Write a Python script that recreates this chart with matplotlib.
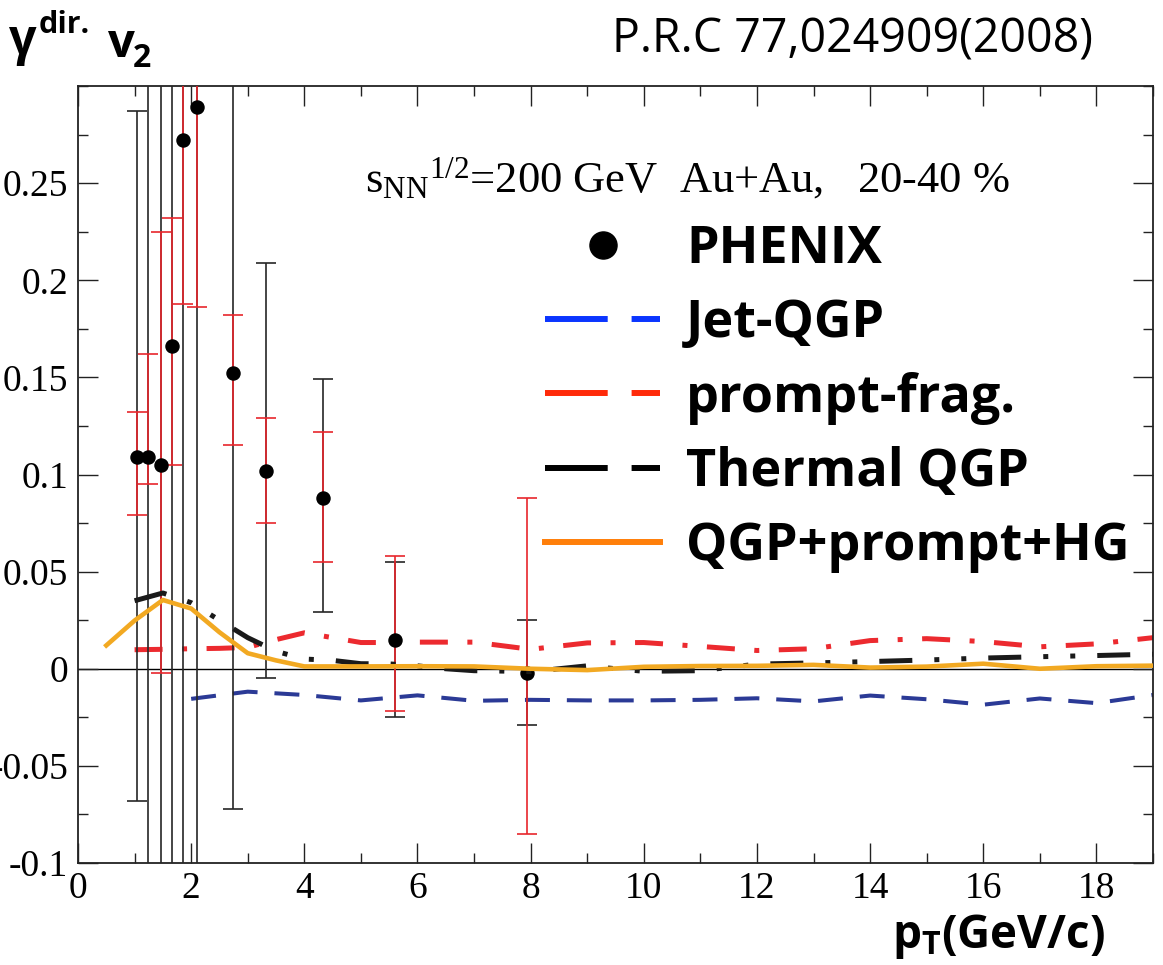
import matplotlib
matplotlib.use('Agg')
import matplotlib.pyplot as plt
from matplotlib.lines import Line2D
from matplotlib.ticker import FixedLocator, FixedFormatter, MultipleLocator
import numpy as np

plt.rcParams['axes.unicode_minus'] = False
plt.rcParams['mathtext.fontset'] = 'custom'
plt.rcParams['mathtext.rm'] = 'Liberation Serif'
plt.rcParams['mathtext.it'] = 'Liberation Serif:italic'
plt.rcParams['mathtext.bf'] = 'Open Sans:bold'

# ---------------- data ----------------
# PHENIX points
pt_data = [1.04, 1.23, 1.47, 1.67, 1.86, 2.11, 2.74, 3.33, 4.33, 5.60, 7.94]
v2_data = [0.109, 0.109, 0.105, 0.166, 0.272, 0.289, 0.152, 0.102, 0.088, 0.015, -0.002]
stat_low = [-0.068, -0.3, -0.3, -0.3, -0.3, -0.3, -0.072, -0.005, 0.029, -0.025, -0.029]
stat_high = [0.287, 0.5, 0.5, 0.5, 0.5, 0.5, 0.5, 0.209, 0.149, 0.055, 0.025]
sys_low = [0.079, 0.095, -0.002, 0.105, 0.188, 0.186, 0.115, 0.075, 0.055, -0.022, -0.085]
sys_high = [0.132, 0.162, 0.225, 0.232, 0.5, 0.5, 0.182, 0.129, 0.122, 0.058, 0.088]

# Jet-QGP
pt_jet = [2, 3, 4, 5, 6, 7, 8, 9, 10, 11, 12, 13, 14, 15, 16, 17, 18, 19]
v2_jet = [-0.0155, -0.0118, -0.0135, -0.0163, -0.0137, -0.0165, -0.0160, -0.0163, -0.0163,
          -0.0160, -0.0152, -0.0168, -0.0138, -0.0157, -0.0185, -0.0153, -0.0177, -0.0135]

# prompt-frag.
pt_prompt = [1, 1.5, 2, 2.5, 3, 3.5, 4, 4.5, 5, 5.5, 6, 7, 8, 9, 10, 11, 12, 13, 14, 15, 16, 17, 18, 19]
v2_prompt = [0.0098, 0.0100, 0.0103, 0.0105, 0.0110, 0.0150, 0.0185, 0.0160, 0.0135, 0.0135,
             0.0137, 0.0137, 0.0100, 0.0133, 0.0135, 0.0115, 0.0094, 0.0103, 0.0145, 0.0155,
             0.0140, 0.0113, 0.0128, 0.0160]

# Thermal QGP
pt_thermal = [1, 1.5, 2, 2.5, 3, 3.5, 4, 4.5, 5, 5.5, 6, 6.5, 7, 7.5, 8, 8.5, 9, 9.5, 10,
              11, 12, 13, 14, 15, 16, 17, 18, 19]
v2_thermal = [0.035, 0.039, 0.034, 0.025, 0.016, 0.009, 0.005, 0.0043, 0.0026, 0.0025, 0.0015,
              0.0, -0.0010, -0.0012, -0.0015, 0.0, 0.0015, 0.0, -0.0013, -0.0010, 0.0024, 0.0030,
              0.0037, 0.0045, 0.0055, 0.0062, 0.0068, 0.0075]

# QGP+prompt+HG
pt_total = [0.5, 1, 1.5, 2, 2.5, 3, 3.5, 4, 5, 6, 7, 8, 9, 10, 11, 12, 13, 14, 15, 16, 17, 18, 19]
v2_total = [0.012, 0.0248, 0.0354, 0.031, 0.0188, 0.008, 0.0043, 0.0012, 0.0012, 0.0013,
            0.0012, 0.0, -0.0007, 0.0010, 0.0014, 0.0015, 0.0020, 0.0006, 0.0011, 0.0026,
            0.0, 0.0013, 0.0016]

x_major = [0, 2, 4, 6, 8, 10, 12, 14, 16, 18]
x_labels = ['0', '2', '4', '6', '8', '10', '12', '14', '16', '18']
y_major = [-0.1, -0.05, 0, 0.05, 0.1, 0.15, 0.2, 0.25]
y_labels = ['-0.1', '-0.05', '0', '0.05', '0.1', '0.15', '0.2', '0.25']

legend_labels = ['PHENIX', 'Jet-QGP', 'prompt-frag.', 'Thermal QGP', 'QGP+prompt+HG']

# ---------------- figure ----------------
W, H = 1163, 965
fig = plt.figure(figsize=(W / 100, H / 100), dpi=100)
ax = fig.add_axes([78 / W, 1 - 863 / H, (1153 - 78) / W, (863 - 86) / H])
ax.set_xlim(0, 19)
ax.set_ylim(-0.1, 0.3)

ax.axhline(0, color='black', lw=1.0, zorder=1)

ax.plot(pt_jet, v2_jet, color='#2b3a96', lw=2.9, ls=(0, (6.2, 4.2)), zorder=2)
ax.plot(pt_prompt, v2_prompt, color='#ec2a2f', lw=3.6, ls=(0, (5.6, 3.9, 1.0, 3.9)), zorder=2.1)

v2 = np.array(v2_data)
ax.errorbar(pt_data, v2, yerr=[v2 - np.array(stat_low), np.array(stat_high) - v2], fmt='none',
            ecolor='#262626', elinewidth=1.2, capsize=7, capthick=1.2, zorder=3)
ax.errorbar(pt_data, v2, yerr=[v2 - np.array(sys_low), np.array(sys_high) - v2], fmt='none',
            ecolor='#e8262c', elinewidth=1.2, capsize=7, capthick=1.2, zorder=3.1)
ax.plot(pt_data, v2_data, 'o', color='black', ms=9.4, zorder=3.2)

ax.plot(pt_thermal, v2_thermal, color='#1a1a1a', lw=3.6,
        ls=(0, (6.6, 4.4, 1.0, 4.4, 1.0, 4.4)), zorder=4)
ax.plot(pt_total, v2_total, color='#f2a922', lw=3.3, zorder=5)

# ticks
ax.xaxis.set_major_locator(FixedLocator(x_major))
ax.xaxis.set_major_formatter(FixedFormatter(x_labels))
ax.xaxis.set_minor_locator(MultipleLocator(1))
ax.yaxis.set_major_locator(FixedLocator(y_major))
ax.yaxis.set_major_formatter(FixedFormatter(y_labels))
ax.yaxis.set_minor_locator(MultipleLocator(0.025))
ax.tick_params(which='both', direction='in', top=True, right=True, width=1.0, color='#222222')
ax.tick_params(which='major', length=14.4)
ax.tick_params(which='minor', length=7.2)
ax.tick_params(axis='x', which='major', pad=6)
ax.tick_params(axis='y', which='major', pad=7)
for lab in ax.get_xticklabels() + ax.get_yticklabels():
    lab.set_fontfamily('Liberation Serif')
    lab.set_fontsize(27)
for s in ax.spines.values():
    s.set_linewidth(1.3)
    s.set_color('#222222')

# annotation
ax.text((365 - 78) / 1075, (863 - 192) / 777,
        r'$\mathrm{s}_{\mathrm{NN}}{}^{\mathrm{1/2}}$=200 GeV  Au+Au,   20-40 %',
        transform=ax.transAxes, fontsize=32, family='Liberation Serif', va='baseline', ha='left')

# legend
handles = [
    Line2D([], [], marker='o', ls='none', color='black', ms=19.5),
    Line2D([], [], color='#0b35ff', lw=4.3, ls=(0, (10.5, 4.0))),
    Line2D([], [], color='#ff2a0a', lw=4.3, ls=(0, (10.5, 4.0))),
    Line2D([], [], color='black', lw=4.3, ls=(0, (10.5, 4.0))),
    Line2D([], [], color='#ff7f0a', lw=4.3),
]
leg = ax.legend(handles, legend_labels, loc='upper left',
                bbox_to_anchor=(545 / W, 1 - 223 / H), bbox_transform=fig.transFigure,
                frameon=False, borderpad=0, borderaxespad=0, handlelength=2.21,
                handletextpad=0.50, labelspacing=0.41, numpoints=1,
                prop={'family': 'Open Sans', 'weight': 'bold', 'size': 37.5})

# top texts
fig.text(612 / W, 1 - 53 / H, 'P.R.C 77,024909(2008)', family='Open Sans', fontsize=33.5,
         va='baseline', ha='left')
fig.text(9 / W, 1 - 54 / H, 'γ', family='Open Sans', weight='bold', fontsize=35,
         va='baseline', ha='left')
fig.text(39 / W, 1 - 33 / H, 'dir.', family='Open Sans', weight='bold', fontsize=22,
         va='baseline', ha='left')
fig.text(108 / W, 1 - 57 / H, 'v', family='Open Sans', weight='bold', fontsize=34,
         va='baseline', ha='left')
fig.text(133 / W, 1 - 67 / H, '2', family='Open Sans', weight='bold', fontsize=23,
         va='baseline', ha='left')

# x label
fig.text(1105 / W, 1 - 948 / H, r'$\mathbf{p}_{\mathbf{T}}$(GeV/c)', family='Open Sans',
         weight='bold', fontsize=33, va='baseline', ha='right')

fig.savefig('out.png', dpi=100)
